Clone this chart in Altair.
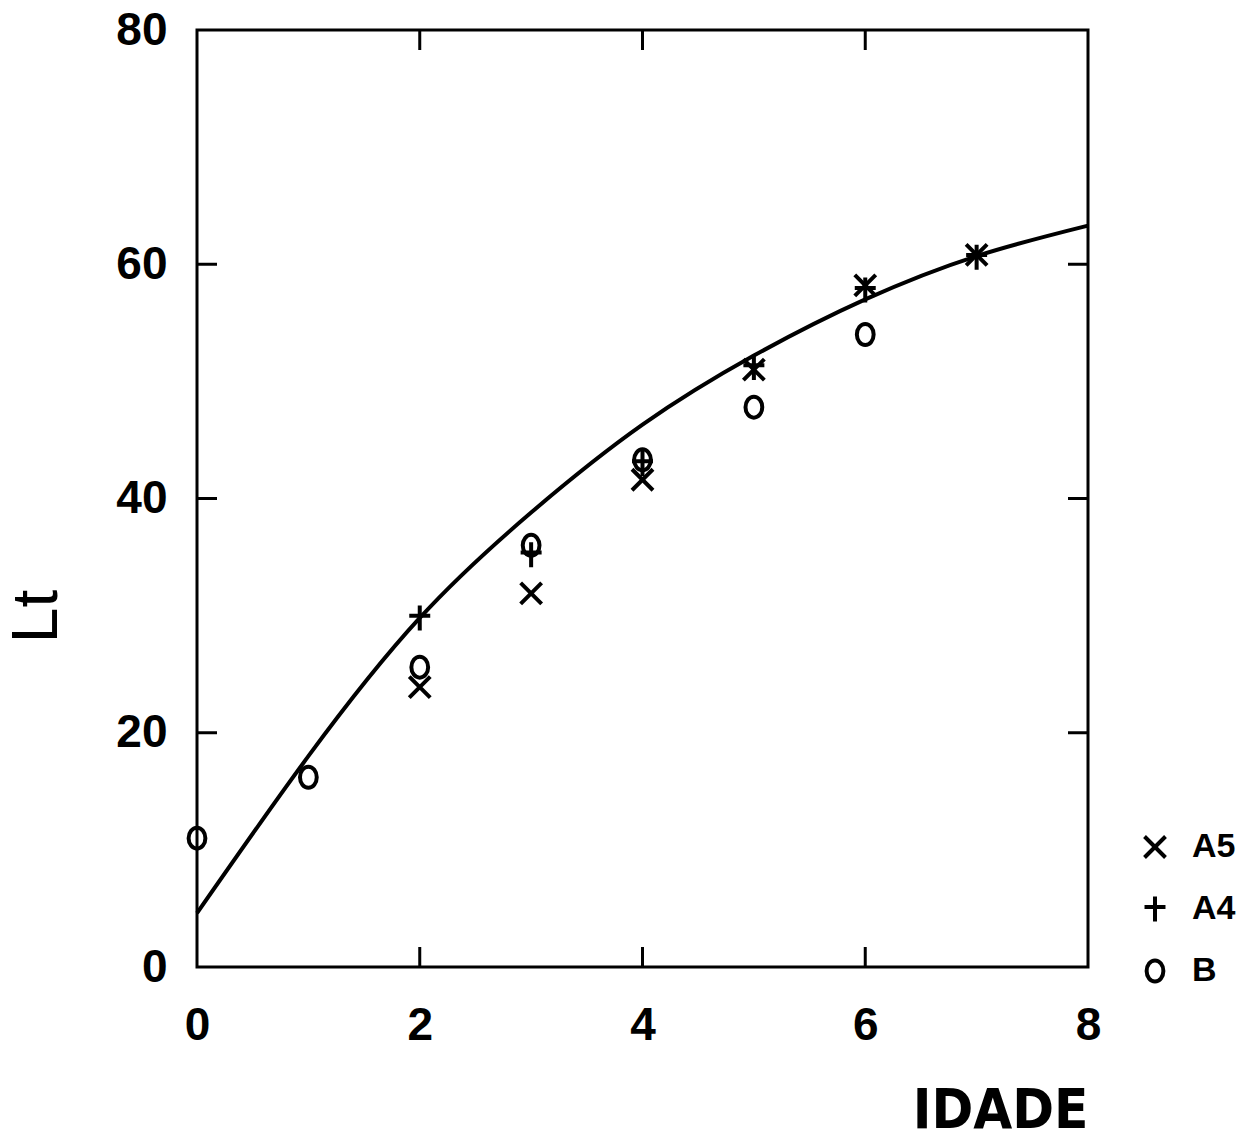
import altair as alt
import pandas as pd

# Ages (IDADE) and observed lengths (Lt) for each sample
AGES_B = [0, 1, 2, 3, 4, 5, 6]
LT_B = [11.0, 16.2, 25.6, 36.0, 43.3, 47.8, 54.0]

AGES_A5 = [2, 3, 4, 5, 6, 7]
LT_A5 = [23.9, 31.9, 41.6, 51.0, 58.2, 60.8]

AGES_A4 = [2, 3, 4, 5, 6, 7]
LT_A4 = [29.8, 35.2, 43.0, 51.2, 57.8, 60.6]

# Fitted growth curve
CURVE_AGE = [0, 1, 2, 3, 4, 5, 6, 7, 8]
CURVE_LT = [4.6, 18.0, 29.8, 38.8, 46.3, 52.2, 57.0, 60.7, 63.3]

SERIES = ["A5", "A4", "B"]
X_TICKS = [2, 4, 6]
Y_TICKS = [20, 40, 60]
X_LABELS = [0, 2, 4, 6, 8]
Y_LABELS = [0, 20, 40, 60, 80]

W, H = 891, 937
TICK = 20

points = pd.DataFrame(
    [{"idade": a, "lt": v, "serie": "B"} for a, v in zip(AGES_B, LT_B)]
    + [{"idade": a, "lt": v, "serie": "A5"} for a, v in zip(AGES_A5, LT_A5)]
    + [{"idade": a, "lt": v, "serie": "A4"} for a, v in zip(AGES_A4, LT_A4)]
)
curve = pd.DataFrame({"idade": CURVE_AGE, "lt": CURVE_LT})
xt = pd.DataFrame({"idade": X_TICKS})
yt = pd.DataFrame({"lt": Y_TICKS})

LABEL_FONT = "Liberation Sans"

xscale = alt.Scale(domain=[0, 8], nice=False, zero=False)
yscale = alt.Scale(domain=[0, 80], nice=False, zero=False)

x_axis = alt.Axis(
    values=X_LABELS, domain=False, ticks=False, grid=False,
    labelFont=LABEL_FONT, labelFontSize=46, labelFontWeight="bold",
    labelColor="black", labelPadding=36, labelFlush=False, labelOverlap=False,
    title="IDADE", titleFont="DejaVu Sans Condensed", titleFontSize=56,
    titleFontWeight="bold", titleColor="black", titleAlign="right",
    titleAnchor="end", titleX=W, titleY=160, titleBaseline="alphabetic",
)
y_axis = alt.Axis(
    values=Y_LABELS, domain=False, ticks=False, grid=False,
    labelFont=LABEL_FONT, labelFontSize=46, labelFontWeight="bold",
    labelColor="black", labelPadding=30, labelFlush=False, labelOverlap=False,
    title="Lt", titleFont=LABEL_FONT, titleFontSize=64, titleFontWeight="normal",
    titleColor="black", titleAngle=-90, titleX=-160, titleY=586,
    titleAlign="center", titleBaseline="middle",
)

X = alt.X("idade:Q", scale=xscale, axis=x_axis)
Y = alt.Y("lt:Q", scale=yscale, axis=y_axis)

line = alt.Chart(curve).mark_line(
    color="black", strokeWidth=4, interpolate="natural"
).encode(x=X, y=Y)

shape_scale = alt.Scale(
    domain=SERIES,
    range=[
        "M-1,-1L1,1M1,-1L-1,1",
        "M0,-1.2L0,1.2M-1,-0.2L1,-0.2",
        "M0,-1A0.8,1,0,1,1,0,1A0.8,1,0,1,1,0,-1Z",
    ],
)

marks = alt.Chart(points).mark_point(
    filled=False, color="black", strokeWidth=4, size=440, opacity=1
).encode(
    x=X, y=Y,
    shape=alt.Shape(
        "serie:N", scale=shape_scale, sort=SERIES,
        legend=alt.Legend(
            title=None, orient="none", legendX=941, legendY=800,
            labelFont=LABEL_FONT, labelFontSize=34, labelFontWeight="bold",
            labelColor="black", labelOffset=20, rowPadding=22,
            symbolSize=440, symbolStrokeWidth=4, symbolStrokeColor="black",
            symbolFillColor="transparent", padding=0,
        ),
    ),
)

rule_style = dict(color="black", strokeWidth=3)
bottom_ticks = alt.Chart(xt).mark_rule(**rule_style).encode(
    x=X, y=alt.value(H), y2=alt.value(H - TICK),
)
top_ticks = alt.Chart(xt).mark_rule(**rule_style).encode(
    x=X, y=alt.value(0), y2=alt.value(TICK),
)
left_ticks = alt.Chart(yt).mark_rule(**rule_style).encode(
    y=Y, x=alt.value(0), x2=alt.value(TICK),
)
right_ticks = alt.Chart(yt).mark_rule(**rule_style).encode(
    y=Y, x=alt.value(W), x2=alt.value(W - TICK),
)

chart = alt.layer(
    line, bottom_ticks, top_ticks, left_ticks, right_ticks, marks
).properties(
    width=W, height=H,
    autosize=alt.AutoSizeParams(type="none"),
    padding={"left": 197, "top": 30, "right": 165, "bottom": 172},
    background="white",
).configure_view(
    stroke="black", strokeWidth=3
)

chart.save("out.html", embed_options={"renderer": "svg", "actions": False})
